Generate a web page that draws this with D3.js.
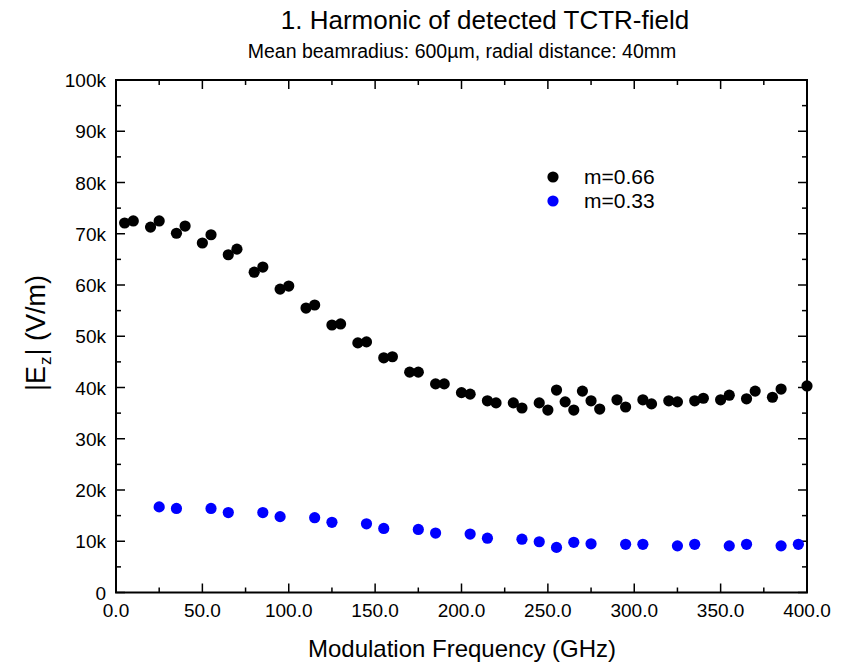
<!DOCTYPE html>
<html><head><meta charset="utf-8">
<script src="https://cdn.jsdelivr.net/npm/d3@7"></script>
<style>body{margin:0;background:#fff}svg{display:block}text{font-family:"Liberation Sans",Arial,sans-serif;fill:#000}</style>
</head><body><svg id="c" width="848" height="662"></svg>
<script>
const title = "1. Harmonic of detected TCTR-field";
const subtitle = "Mean beamradius: 600µm, radial distance: 40mm";
const xTicks = [0,50,100,150,200,250,300,350,400];
const yTicks = [0,10000,20000,30000,40000,50000,60000,70000,80000,90000,100000];
const freqA = [5,10,20,25,35,40,50,55,65,70,80,85,95,100,110,115,125,130,140,145,155,160,170,175,185,190,200,205,215,220,230,235,245,250,255,260,265,270,275,280,290,295,305,310,320,325,335,340,350,355,365,370,380,385,400];
const fieldA = [72.1,72.5,71.3,72.5,70.1,71.5,68.2,69.8,65.9,67.0,62.5,63.5,59.2,59.8,55.5,56.1,52.2,52.4,48.7,48.9,45.8,46.0,43.0,43.0,40.7,40.7,39.0,38.7,37.4,37.0,37.0,36.0,37.0,35.6,39.5,37.2,35.6,39.3,37.4,35.8,37.6,36.2,37.6,36.8,37.4,37.2,37.4,37.9,37.6,38.5,37.8,39.3,38.1,39.7,40.3];
const freqB = [25,35,55,65,85,95,115,125,145,155,175,185,205,215,235,245,255,265,275,295,305,325,335,355,365,385,395];
const fieldB = [16.7,16.4,16.4,15.6,15.6,14.8,14.6,13.7,13.4,12.5,12.3,11.6,11.4,10.6,10.4,9.9,8.8,9.8,9.5,9.4,9.4,9.1,9.4,9.1,9.4,9.1,9.4];
const seriesNames = ["m=0.66","m=0.33"];
const seriesColors = ["#000000","#0000ff"];

const svg = d3.select("#c");
const L=116, R=807, T=80, B=592.5;
const x = d3.scaleLinear().domain([0,400]).range([L,R]);
const y = d3.scaleLinear().domain([0,100000]).range([B,T]);

svg.append("text").attr("x",485).attr("y",29).attr("text-anchor","middle").attr("font-size",26).text(title);
svg.append("text").attr("x",462).attr("y",58).attr("text-anchor","middle").attr("font-size",19.5).text(subtitle);

const minorX = d3.range(25,400,50);
const minorY = d3.range(5000,100000,10000);
const g = svg.append("g");
function tickLines(vals, len, axis){
  vals.forEach(v=>{
    if(axis==="x"){
      g.append("line").attr("x1",x(v)).attr("x2",x(v)).attr("y1",B).attr("y2",B-len).attr("stroke","#000").attr("stroke-width",1.5);
      g.append("line").attr("x1",x(v)).attr("x2",x(v)).attr("y1",T).attr("y2",T+len).attr("stroke","#000").attr("stroke-width",1.5);
    } else {
      g.append("line").attr("y1",y(v)).attr("y2",y(v)).attr("x1",L).attr("x2",L+len).attr("stroke","#000").attr("stroke-width",1.5);
      g.append("line").attr("y1",y(v)).attr("y2",y(v)).attr("x1",R).attr("x2",R-len).attr("stroke","#000").attr("stroke-width",1.5);
    }
  });
}
tickLines(xTicks,9,"x"); tickLines(minorX,5,"x");
tickLines(yTicks,9,"y"); tickLines(minorY,5,"y");
g.append("rect").attr("x",L).attr("y",T).attr("width",R-L).attr("height",B-T).attr("fill","none").attr("stroke","#000").attr("stroke-width",2);

svg.selectAll(".xl").data(xTicks).enter().append("text").attr("x",d=>x(d)).attr("y",617).attr("text-anchor","middle").attr("font-size",19).text(d=>d.toFixed(1));
svg.selectAll(".yl").data(yTicks).enter().append("text").attr("x",106).attr("y",d=>y(d)+7).attr("text-anchor","end").attr("font-size",19).text(d=>d===0?"0":(d/1000)+"k");

svg.append("text").attr("x",462).attr("y",657).attr("text-anchor","middle").attr("font-size",24).text("Modulation Frequency (GHz)");
const yt = svg.append("text").attr("transform","translate(45,333) rotate(-90)").attr("text-anchor","middle").attr("font-size",27);
yt.append("tspan").text("|E");
yt.append("tspan").attr("font-size",17).attr("dy",6).attr("dx",1).text("z");
yt.append("tspan").attr("dy",-6).attr("dx",1).text("| (V/m)");

const plot = svg.append("g");
plot.selectAll(".a").data(freqA).enter().append("circle").attr("cx",d=>x(d)).attr("cy",(d,i)=>y(fieldA[i]*1000)).attr("r",5.6).attr("fill",seriesColors[0]);
plot.selectAll(".b").data(freqB).enter().append("circle").attr("cx",d=>x(d)).attr("cy",(d,i)=>y(fieldB[i]*1000)).attr("r",5.6).attr("fill",seriesColors[1]);

seriesNames.forEach((n,i)=>{
  const ly = 177 + i*24;
  svg.append("circle").attr("cx",553).attr("cy",ly).attr("r",5.6).attr("fill",seriesColors[i]);
  svg.append("text").attr("x",584).attr("y",ly+7).attr("font-size",21).text(n);
});
</script></body></html>
